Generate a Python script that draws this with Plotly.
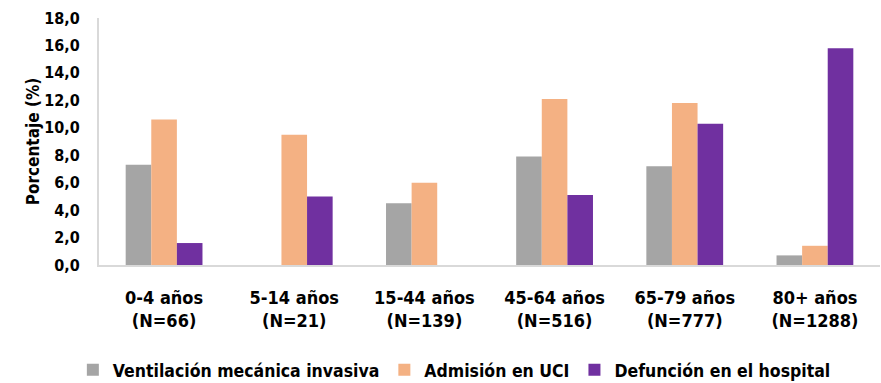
import plotly.graph_objects as go

categories = ["0-4 años<br>(N=66)", "5-14 años<br>(N=21)", "15-44 años<br>(N=139)",
              "45-64 años<br>(N=516)", "65-79 años<br>(N=777)", "80+ años<br>(N=1288)"]
ventilacion = [7.3, 0, 4.5, 7.9, 7.2, 0.7]
admision_uci = [10.6, 9.5, 6.0, 12.1, 11.8, 1.4]
defuncion = [1.6, 5.0, 0, 5.1, 10.3, 15.8]
y_ticks = [0, 2, 4, 6, 8, 10, 12, 14, 16, 18]

FONT = "DejaVu Sans Condensed"

fig = go.Figure()
fig.add_bar(x=categories, y=ventilacion, name="Ventilación mecánica invasiva",
            marker=dict(color="#a5a5a5", line=dict(width=0)))
fig.add_bar(x=categories, y=admision_uci, name="Admisión en UCI",
            marker=dict(color="#f4b183", line=dict(width=0)))
fig.add_bar(x=categories, y=defuncion, name="Defunción en el hospital",
            marker=dict(color="#7030a0", line=dict(width=0)))

fig.update_layout(
    width=881, height=383,
    margin=dict(l=99, r=1, t=18, b=118, autoexpand=False),
    paper_bgcolor="white", plot_bgcolor="white",
    barmode="group", bargap=0.41, bargroupgap=0,
    separators=",.",
    font=dict(family=FONT, color="#000000", size=16, weight="bold"),
    legend=dict(orientation="h", x=0.455, xanchor="center", y=-0.425, yanchor="middle",
                font=dict(size=17.5, family=FONT, weight="bold"), itemwidth=30, tracegroupgap=0),
    showlegend=True,
)
fig.update_xaxes(showline=True, linecolor="#d9d9d9", linewidth=2, showgrid=False,
                 tickfont=dict(size=18, family=FONT, weight="bold"), ticks="", ticklabelstandoff=15)
fig.update_yaxes(range=[0, 18], tickvals=y_ticks, tickformat=".1f",
                 showline=True, linecolor="#d9d9d9", linewidth=2, showgrid=False,
                 zeroline=False, ticks="", ticklabelstandoff=14,
                 tickfont=dict(size=16, family=FONT, weight="bold"),
                 title=dict(text="Porcentaje (%)", font=dict(size=17, family=FONT, weight="bold"), standoff=0))

fig.write_html("out.html")
